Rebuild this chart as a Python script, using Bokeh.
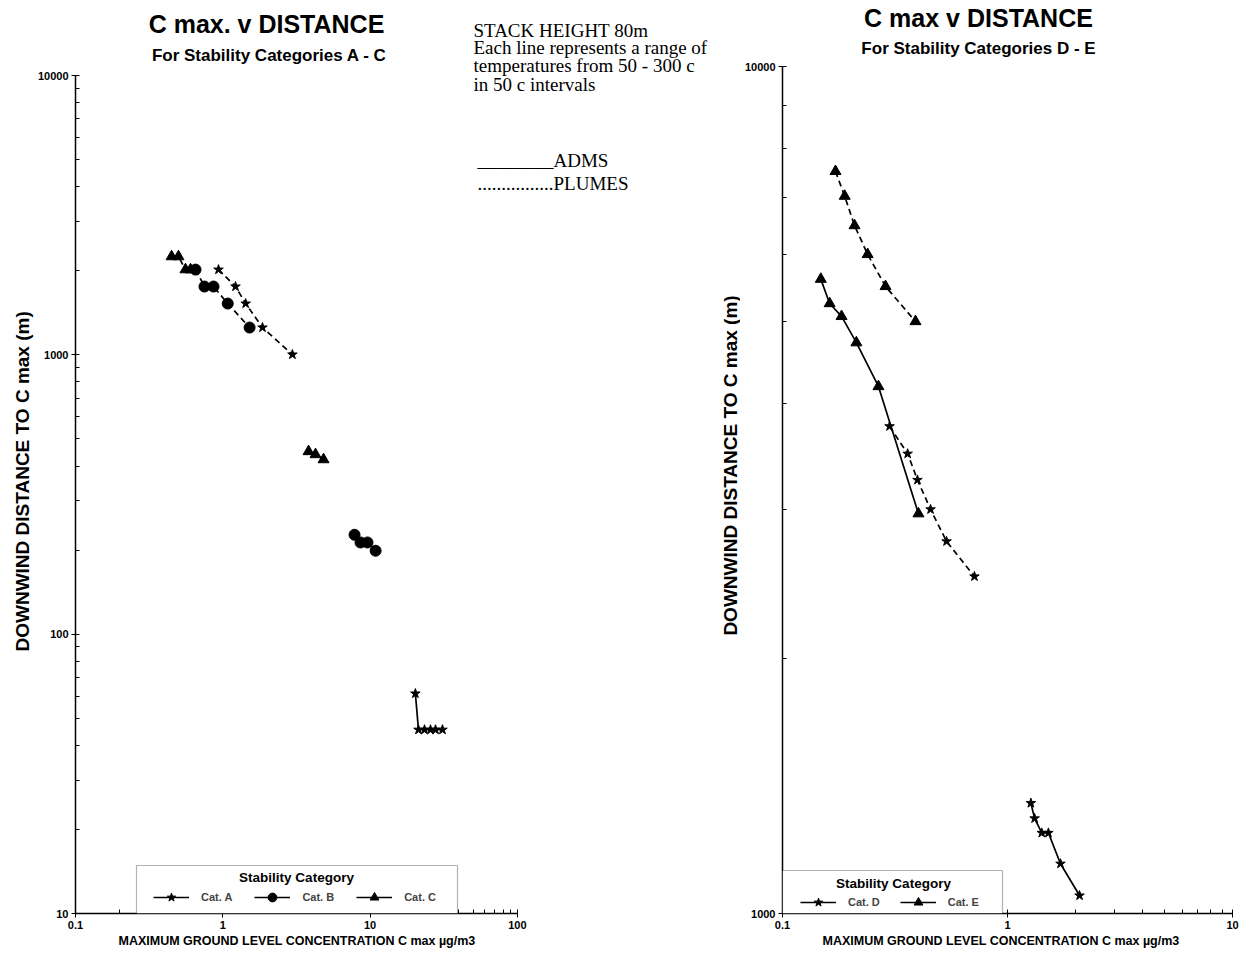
import math
from bokeh.plotting import figure
from bokeh.models import (Range1d, FixedTicker, NumeralTickFormatter, Label,
                          BoxAnnotation, Legend, LegendItem, Title)
from bokeh.layouts import row
from bokeh.embed import file_html
from bokeh.resources import INLINE

# ---------------- data ----------------
# Left chart: stability categories A - C
adms_a_x = [20.3, 21.3, 23.4, 25.7, 27.8, 31.0]
adms_a_y = [61.3, 45.5, 45.5, 45.5, 45.5, 45.5]
adms_b_x = [7.84, 8.61, 9.60, 10.9]
adms_b_y = [227, 213, 213, 199]
adms_c_x = [3.82, 4.26, 4.83]
adms_c_y = [451, 440, 422]

plumes_a_x = [0.935, 1.22, 1.43, 1.86, 2.97]
plumes_a_y = [2020, 1757, 1527, 1253, 1003]
plumes_b_x = [0.653, 0.751, 0.865, 1.08, 1.52]
plumes_b_y = [2020, 1757, 1757, 1527, 1253]
plumes_c_x = [0.449, 0.500, 0.558, 0.604]
plumes_c_y = [2249, 2249, 2020, 2020]

# Right chart: stability categories D - E
adms_d_x = [1.27, 1.32, 1.42, 1.52, 1.72, 2.09]
adms_d_y = [1350, 1295, 1245, 1245, 1145, 1050]
adms_e_x = [0.148, 0.162, 0.183, 0.213, 0.267, 0.402]
adms_e_y = [5610, 5250, 5070, 4720, 4190, 2965]
plumes_d_x = [0.299, 0.360, 0.398, 0.455, 0.536, 0.713]
plumes_d_y = [3760, 3490, 3250, 3000, 2750, 2500]
plumes_e_x = [0.172, 0.189, 0.209, 0.239, 0.287, 0.390]
plumes_e_y = [7520, 7030, 6490, 6000, 5500, 5000]

left_x_ticks = [0.1, 1, 10, 100]
left_y_ticks = [10, 100, 1000, 10000]
right_x_ticks = [0.1, 1, 10]
right_y_ticks = [1000, 10000]

x_label = "MAXIMUM GROUND LEVEL CONCENTRATION C max \u00b5g/m3"
y_label = "DOWNWIND DISTANCE TO C max (m)"
left_title = "C max. v DISTANCE"
left_sub = "For Stability Categories A - C"
right_title = "C max v DISTANCE"
right_sub = "For Stability Categories D - E"
note_lines = ["STACK HEIGHT 80m",
              "Each line represents a range of",
              "temperatures from 50 - 300 c",
              "in 50 c intervals"]
adms_key = "________ADMS"
plumes_key = "................PLUMES"
legend_title = "Stability Category"
left_cats = ["Cat. A", "Cat. B", "Cat. C"]
right_cats = ["Cat. D", "Cat. E"]

SANS = "Liberation Sans"
SERIF = "Liberation Serif"


def minor_ticks(majors):
    out = []
    for m in majors[:-1]:
        for k in range(2, 10):
            out.append(m * k)
    return out


def make_fig(xr, yr, fw, fh, bl, br, xt, yt):
    # The frame reaches up to the top of the page (and, for the left chart,
    # across to the right one) so that titles and notes can live inside it;
    # the axes are bounded to the plotted decades.
    p = figure(x_axis_type="log", y_axis_type="log",
               x_range=Range1d(*xr), y_range=Range1d(*yr),
               frame_width=fw, frame_height=fh,
               min_border_left=bl, min_border_right=br,
               min_border_top=0, min_border_bottom=40,
               output_backend="svg", toolbar_location=None)
    p.outline_line_color = None
    p.xgrid.grid_line_color = None
    p.ygrid.grid_line_color = None
    p.background_fill_color = "white"
    p.border_fill_color = "white"
    p.xaxis.ticker = FixedTicker(ticks=xt, minor_ticks=minor_ticks(xt))
    p.yaxis.ticker = FixedTicker(ticks=yt, minor_ticks=minor_ticks(yt))
    p.xaxis.bounds = (xt[0], xt[-1])
    p.yaxis.bounds = (yt[0], yt[-1])
    for ax in (p.xaxis, p.yaxis):
        ax.formatter = NumeralTickFormatter(format="0.[00]")
        ax.axis_line_color = "black"
        ax.axis_line_width = 1.5
        ax.major_tick_line_color = "black"
        ax.minor_tick_line_color = "black"
        ax.major_tick_in = 4
        ax.major_tick_out = 4
        ax.minor_tick_in = 4
        ax.minor_tick_out = 0
        ax.major_label_text_font = SANS
        ax.major_label_text_font_size = "11px"
        ax.major_label_text_font_style = "bold"
        ax.major_label_text_color = "black"
        ax.major_label_standoff = 3
    return p


def series(p, x, y, marker, size, dashed):
    dash = "6 4" if dashed else "solid"
    ln = p.line(x, y, line_color="black", line_width=1.7, line_dash=dash)
    sc = p.scatter(x, y, marker=marker, size=size, fill_color="black",
                   line_color="black")
    return ln, sc


def label(p, x, y, text, size, font=SANS, style="bold", align="center",
          baseline="middle", angle=0.0):
    p.add_layout(Label(x=x, y=y, x_units="screen", y_units="screen",
                       text=text, text_font=font, text_font_size=size,
                       text_font_style=style, text_align=align,
                       text_baseline=baseline, text_color="black",
                       angle=angle))


def side_title(p, text, size, side, offset, standoff=1):
    # axis title placed in the side panel, starting "offset" px along it
    p.add_layout(Title(text=text, align="left", offset=offset,
                       standoff=standoff, text_font=SANS,
                       text_font_size=size, text_font_style="bold",
                       text_color="black"), side)


FH = 913  # frame height (both charts), bottom axis at page y = 913

# ---------------- left chart ----------------
# 0.1..100 over 442 px (147.3 px/decade); 10..10000 over 838 px
p1 = make_fig((0.1, 10 ** (-1 + 665 / 147.3)), (10, 10 ** (1 + FH / 279.3)),
              665, FH, 75, 0, left_x_ticks, left_y_ticks)
side_title(p1, x_label, "12.5px", "below", 43)
side_title(p1, y_label, "19px", "left", 262, standoff=4)

la = series(p1, adms_a_x, adms_a_y, "star", 10, False)
lb = series(p1, adms_b_x, adms_b_y, "circle", 11, False)
lc = series(p1, adms_c_x, adms_c_y, "triangle", 11, False)
series(p1, plumes_a_x, plumes_a_y, "star", 10, True)
series(p1, plumes_b_x, plumes_b_y, "circle", 11, True)
series(p1, plumes_c_x, plumes_c_y, "triangle", 11, True)

label(p1, 191, 890, left_title, "25px")
label(p1, 194, 858, left_sub, "17px")
for t, yy in zip(note_lines, [883, 866, 848, 829]):
    label(p1, 398, yy, t, "19px", font=SERIF, style="normal",
          align="left", baseline="alphabetic")
label(p1, 402, 753, adms_key, "19px", font=SERIF, style="normal",
      align="left", baseline="alphabetic")
label(p1, 402, 730, plumes_key, "19px", font=SERIF, style="normal",
      align="left", baseline="alphabetic")
# y-axis title of the right-hand chart (sits left of its tick labels)
label(p1, 655, 448, y_label, "19px", angle=math.pi / 2)

p1.add_layout(BoxAnnotation(left=61, right=382, bottom=0, top=48,
                            left_units="screen", right_units="screen",
                            bottom_units="screen", top_units="screen",
                            fill_color="white", fill_alpha=1.0,
                            line_color="black", line_width=1.2))
label(p1, 221, 36, legend_title, "13.5px")
leg1 = Legend(items=[LegendItem(label=left_cats[0], renderers=list(la)),
                     LegendItem(label=left_cats[1], renderers=list(lb)),
                     LegendItem(label=left_cats[2], renderers=list(lc))],
              location=(78, 5), orientation="horizontal",
              background_fill_alpha=0, border_line_alpha=0,
              padding=0, margin=0, spacing=22, label_standoff=12,
              glyph_width=36, glyph_height=22, label_height=22,
              label_text_font=SANS, label_text_font_size="11px",
              label_text_font_style="bold")
p1.add_layout(leg1)

# ---------------- right chart ----------------
# 0.1..10 over 450 px; 1000..10000 over 847 px
p2 = make_fig((0.1, 10), (1000, 10 ** (3 + FH / 847)),
              450, FH, 42, 9, right_x_ticks, right_y_ticks)
side_title(p2, x_label, "12.5px", "below", 40)

ld = series(p2, adms_d_x, adms_d_y, "star", 10, False)
le = series(p2, adms_e_x, adms_e_y, "triangle", 11, False)
series(p2, plumes_d_x, plumes_d_y, "star", 10, True)
series(p2, plumes_e_x, plumes_e_y, "triangle", 11, True)

label(p2, 196, 896, right_title, "25px")
label(p2, 196, 865, right_sub, "17px")

p2.add_layout(BoxAnnotation(left=0, right=220, bottom=0, top=43,
                            left_units="screen", right_units="screen",
                            bottom_units="screen", top_units="screen",
                            fill_color="white", fill_alpha=1.0,
                            line_color="black", line_width=1.2))
label(p2, 111, 30, legend_title, "13.5px")
leg2 = Legend(items=[LegendItem(label=right_cats[0], renderers=list(ld)),
                     LegendItem(label=right_cats[1], renderers=list(le))],
              location=(18, 0), orientation="horizontal",
              background_fill_alpha=0, border_line_alpha=0,
              padding=0, margin=0, spacing=20, label_standoff=12,
              glyph_width=36, glyph_height=22, label_height=22,
              label_text_font=SANS, label_text_font_size="11px",
              label_text_font_style="bold")
p2.add_layout(leg2)

layout = row(p1, p2)
open("out.html", "w").write(file_html(layout, INLINE))
